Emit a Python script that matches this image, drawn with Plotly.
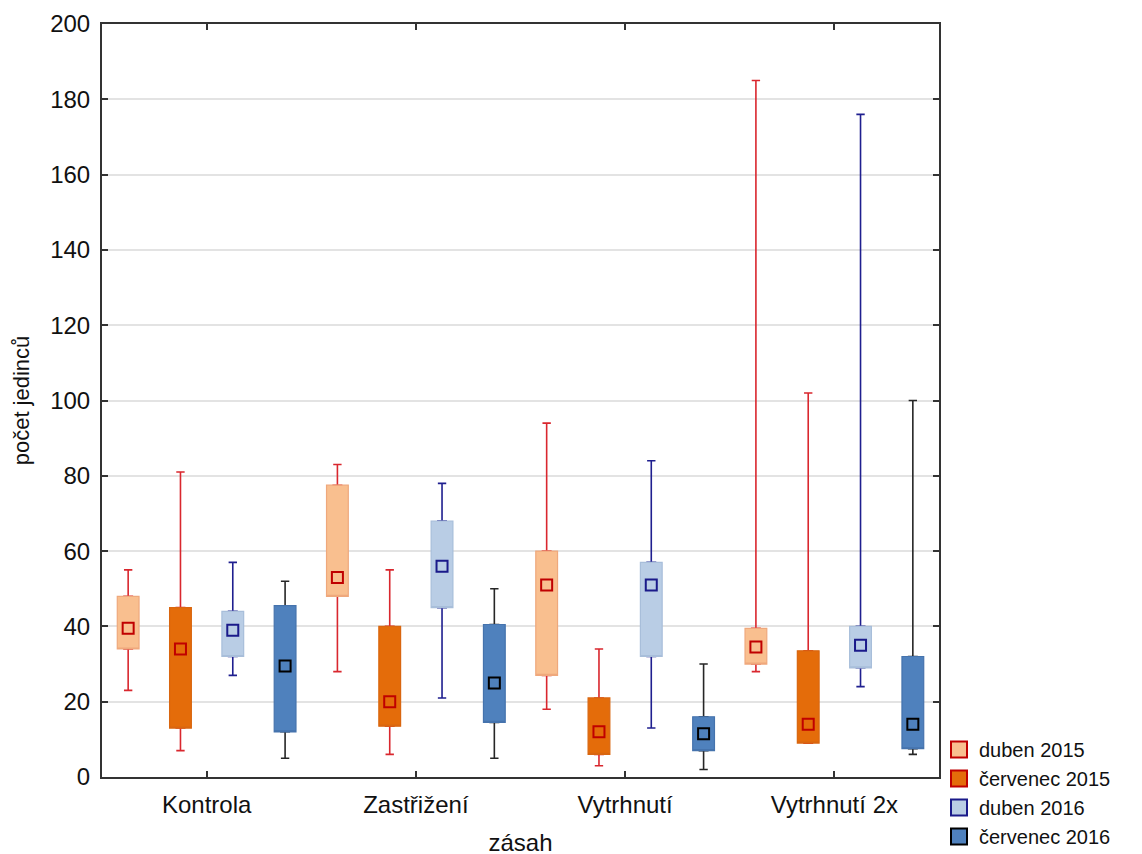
import plotly.graph_objects as go

categories = ["Kontrola", "Zastřižení", "Vytrhnutí", "Vytrhnutí 2x"]
series = ["duben 2015", "červenec 2015", "duben 2016", "červenec 2016"]

# per series: values for each category
minimum = {
    "duben 2015":    [23, 28, 18, 28],
    "červenec 2015": [7, 6, 3, 9],
    "duben 2016":    [27, 21, 13, 24],
    "červenec 2016": [5, 5, 2, 6],
}
q1 = {
    "duben 2015":    [34, 48, 27, 30],
    "červenec 2015": [13, 13.5, 6, 9],
    "duben 2016":    [32, 45, 32, 29],
    "červenec 2016": [12, 14.5, 7, 7.5],
}
median = {
    "duben 2015":    [39.5, 53, 51, 34.5],
    "červenec 2015": [34, 20, 12, 14],
    "duben 2016":    [39, 56, 51, 35],
    "červenec 2016": [29.5, 25, 11.5, 14],
}
q3 = {
    "duben 2015":    [48, 77.5, 60, 39.5],
    "červenec 2015": [45, 40, 21, 33.5],
    "duben 2016":    [44, 68, 57, 40],
    "červenec 2016": [45.5, 40.5, 16, 32],
}
maximum = {
    "duben 2015":    [55, 83, 94, 185],
    "červenec 2015": [81, 55, 34, 102],
    "duben 2016":    [57, 78, 84, 176],
    "červenec 2016": [52, 50, 30, 100],
}

fill_colors = {"duben 2015": "#F9BF8F", "červenec 2015": "#E46C0A",
               "duben 2016": "#B9CDE5", "červenec 2016": "#4F81BD"}
outline_colors = {"duben 2015": "#EFA87C", "červenec 2015": "#D9660F",
                  "duben 2016": "#A8BEDA", "červenec 2016": "#4573AD"}
whisker_colors = {"duben 2015": "#D9272E", "červenec 2015": "#D9272E",
                  "duben 2016": "#1F1F8F", "červenec 2016": "#262626"}
marker_colors = {"duben 2015": "#C00000", "červenec 2015": "#C00000",
                 "duben 2016": "#1A1A8A", "červenec 2016": "#000000"}

offsets = [-0.375, -0.125, 0.125, 0.375]
box_w = 0.104
cap_w = 0.04

fig = go.Figure()

for s, off in zip(series, offsets):
    xs = [i + off for i in range(len(categories))]
    # whiskers (narrow box hidden behind the body)
    fig.add_trace(go.Box(
        x=xs, q1=q1[s], median=median[s], q3=q3[s],
        lowerfence=minimum[s], upperfence=maximum[s],
        width=cap_w, whiskerwidth=1,
        fillcolor=fill_colors[s], line=dict(color=whisker_colors[s], width=1.6),
        boxpoints=False, showlegend=False, hoverinfo="skip",
    ))
for s, off in zip(series, offsets):
    xs = [i + off for i in range(len(categories))]
    # box body
    fig.add_trace(go.Box(
        x=xs, q1=q1[s], median=q1[s], q3=q3[s],
        lowerfence=q1[s], upperfence=q3[s],
        width=box_w, whiskerwidth=0,
        fillcolor=fill_colors[s], line=dict(color=outline_colors[s], width=1.2),
        boxpoints=False, showlegend=False,
    ))
for s, off in zip(series, offsets):
    xs = [i + off for i in range(len(categories))]
    fig.add_trace(go.Scatter(
        x=xs, y=median[s], mode="markers",
        marker=dict(symbol="square", size=11, color=fill_colors[s],
                    line=dict(color=marker_colors[s], width=2)),
        showlegend=False,
    ))
for s in series:
    fig.add_trace(go.Scatter(
        x=[None], y=[None], mode="markers", name=s,
        marker=dict(symbol="square", size=16, color=fill_colors[s],
                    line=dict(color=marker_colors[s], width=2)),
    ))

font_family = "Liberation Sans, Arial, sans-serif"
fig.update_layout(
    width=1142, height=854,
    margin=dict(l=94, r=204, t=16, b=85),
    paper_bgcolor="white", plot_bgcolor="white",
    font=dict(family=font_family, size=23, color="#111111"),
    boxmode="overlay",
    showlegend=True,
    legend=dict(xref="container", yref="container",
                x=931 / 1142, xanchor="left", y=1 - 722 / 854, yanchor="top",
                font=dict(size=20), bgcolor="rgba(0,0,0,0)",
                itemsizing="trace", tracegroupgap=0),
)
fig.update_xaxes(
    range=[-0.5, 3.5], tickmode="array", tickvals=list(range(len(categories))),
    ticktext=categories, ticks="inside", ticklen=6, tickwidth=2, tickcolor="#333",
    showline=True, linecolor="#333", linewidth=2, mirror="ticks",
    showgrid=False, zeroline=False, ticklabelstandoff=5, automargin=False,
    tickfont=dict(size=24),
    title=dict(text="zásah", font=dict(size=24), standoff=17),
)
fig.update_yaxes(
    range=[0, 200], tickmode="linear", tick0=0, dtick=20,
    ticks="inside", ticklen=6, tickwidth=2, tickcolor="#333",
    showline=True, linecolor="#333", linewidth=2, mirror="ticks",
    showgrid=True, gridcolor="#E3E3E3", gridwidth=1.5, zeroline=False,
    ticklabelstandoff=5, automargin=False,
    tickfont=dict(size=24),
    title=dict(text="počet jedinců", font=dict(size=22), standoff=14),
)

fig.write_html("out.html")
